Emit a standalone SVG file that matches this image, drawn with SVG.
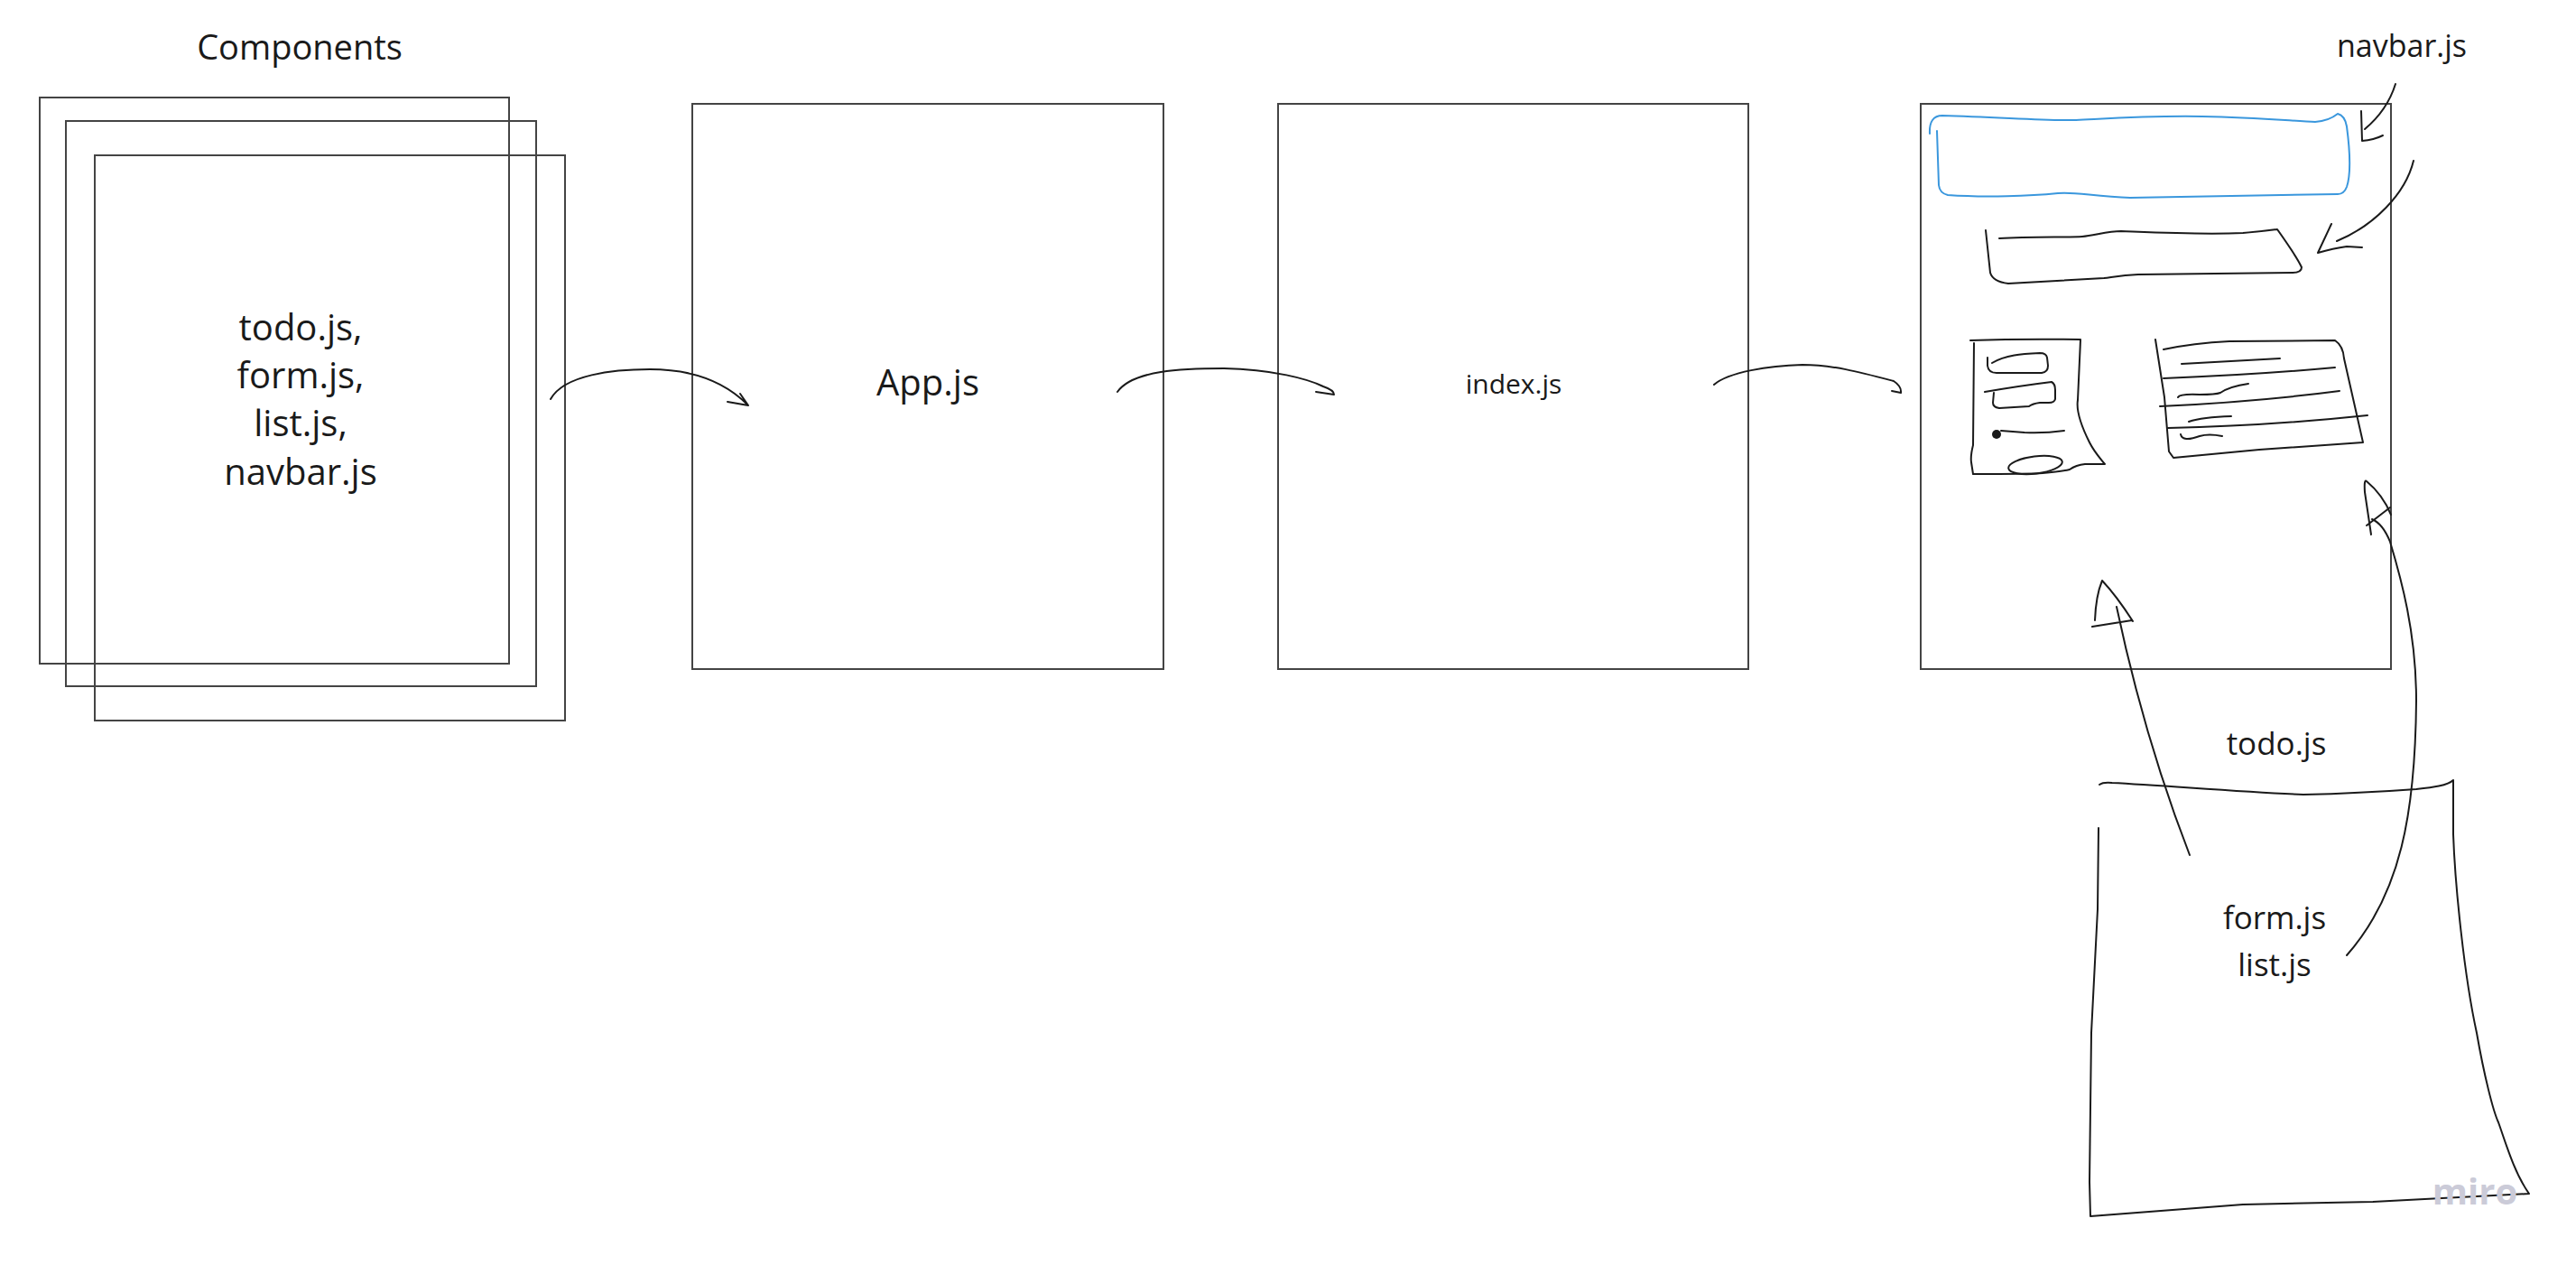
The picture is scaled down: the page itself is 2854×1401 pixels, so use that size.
<svg xmlns="http://www.w3.org/2000/svg" width="2854" height="1401" viewBox="0 0 2854 1401">
<style>
.box{fill:none;stroke:#444;stroke-width:2}
.ink{fill:none;stroke:#1a1a1a;stroke-width:2;stroke-linecap:round;stroke-linejoin:round}
.blue{fill:none;stroke:#3a97dd;stroke-width:2;stroke-linecap:round;stroke-linejoin:round}
text{font-family:"Open Sans","Noto Sans","Liberation Sans",sans-serif;fill:#1a1a1a;text-anchor:middle}
.wm{font-weight:bold;fill:#cbcbd8}
</style>
<rect width="2854" height="1401" fill="#fff"/>

<g id="node-components">
<text x="332" y="66" font-size="38">Components</text>
<rect class="box" x="44" y="108" width="520" height="627"/>
<rect class="box" x="73" y="134" width="521" height="626"/>
<rect class="box" x="105" y="172" width="521" height="626"/>
<text x="333" y="377" font-size="40">todo.js,</text>
<text x="333" y="430" font-size="40">form.js,</text>
<text x="333" y="483" font-size="40">list.js,</text>
<text x="333" y="537" font-size="40">navbar.js</text>
</g>

<g id="node-app">
<rect class="box" x="767" y="115" width="522" height="626"/>
<text x="1028" y="438" font-size="40">App.js</text>
</g>

<g id="node-index">
<rect class="box" x="1416" y="115" width="521" height="626"/>
<text x="1677" y="436" font-size="30">index.js</text>
</g>

<g id="node-page">
<rect class="box" x="2128" y="115" width="521" height="626"/>
<path class="blue" d="M2138,148 Q2137,128 2152,128 C2220,130 2270,134 2300,133 C2340,131 2380,128 2440,129 C2500,130 2540,134 2565,135 Q2580,134 2590,126 Q2598,128 2600,140 C2604,170 2604,195 2600,207 Q2597,215 2590,215 L2360,219 C2320,218 2300,212 2280,214 C2250,217 2200,219 2158,216 Q2149,214 2148,205 L2146,145"/>
<path class="ink" d="M2215,264 C2250,262 2290,263 2307,262 C2320,261 2335,256 2350,256 C2400,258 2440,260 2485,258 C2500,257 2515,255 2523,254 Q2545,285 2550,296 Q2550,302 2540,302 L2369,304 C2350,305 2340,307 2331,308 L2225,314 Q2208,312 2205,302 L2200,255"/>
<path class="ink" d="M2183,377 Q2240,375 2305,376 M2187,380 L2186,493 Q2183,505 2184,512 L2186,525 C2220,525 2250,525 2263,524 Q2285,522 2293,520 Q2300,515 2310,514 L2332,514 Q2320,500 2315,490 C2305,470 2300,455 2302,443 C2303,425 2304,400 2305,376"/>
<path class="ink" d="M2202,396 L2202,405 Q2203,413 2212,413 L2262,413 Q2269,412 2269,405 L2268,396 Q2267,391 2260,391 C2240,392 2222,393 2207,402"/>
<path class="ink" d="M2199,434 Q2240,427 2273,423 Q2277,425 2277,432 L2277,442 Q2276,446 2270,446 L2260,446 Q2252,447 2248,450 L2215,452 Q2208,451 2208,446 L2209,435"/>
<circle cx="2212" cy="481" r="5" fill="#1a1a1a"/>
<path class="ink" d="M2217,477 Q2230,478 2243,479 Q2265,480 2287,477"/>
<ellipse class="ink" cx="2255" cy="515" rx="30" ry="9.5" transform="rotate(-7 2255 515)"/>
<path class="ink" d="M2388,376 L2398,440 L2403,500 L2408,507 L2503,498 L2618,490 L2597,397 Q2596,383 2587,377 L2470,378 Q2430,380 2397,387"/>
<path class="ink" d="M2417,403 L2526,397 M2397,419 Q2500,415 2587,407 M2413,440 Q2415,436 2437,437 Q2455,437 2460,435 Q2470,428 2491,425 M2393,450 Q2500,445 2592,433 M2425,467 Q2440,462 2472,461 M2402,474 Q2510,472 2623,460 M2416,481 Q2418,490 2437,483 Q2447,480 2462,483"/>
</g>

<g id="label-navbar">
<text x="2661" y="63" font-size="34">navbar.js</text>
</g>

<g id="node-modules">
<path class="ink" d="M2326,869 Q2330,866 2340,867 C2400,870 2480,877 2552,880 C2600,879 2650,876 2677,874 C2695,872 2712,870 2718,864 L2718,924 C2720,980 2730,1080 2744,1144 C2752,1190 2762,1230 2768,1243 C2775,1262 2785,1298 2802,1322 L2629,1331 L2485,1334 L2316,1347 L2315,1309 L2317,1144 L2324,1007 L2325,917"/>
<text x="2522" y="836" font-size="35">todo.js</text>
<text x="2520" y="1029" font-size="35">form.js</text>
<text x="2520" y="1081" font-size="35">list.js</text>
</g>

<g id="connectors">
<path class="ink" d="M610,442 C625,415 680,409 720,409 C770,409 805,425 828,448 M820,436 L829,449 L806,445"/>
<path class="ink" d="M1238,434 C1255,410 1310,408 1356,408 C1410,409 1450,420 1466,428 Q1478,432 1478,437 L1458,434"/>
<path class="ink" d="M1899,426 C1915,412 1960,405 1997,404 C2030,404 2060,412 2098,422 Q2107,428 2106,435 L2096,433"/>
<path class="ink" d="M2654,93 Q2645,122 2620,143 M2616,123 L2617,156 Q2630,155 2640,150"/>
<path class="ink" d="M2674,178 C2665,215 2630,250 2589,267 M2583,248 L2568,280 Q2585,275 2600,273 L2617,274"/>
<path class="ink" d="M2426,947 C2400,880 2370,790 2345,672 M2321,687 Q2322,660 2329,643 Q2345,660 2363,688 M2318,694 L2362,687"/>
<path class="ink" d="M2600,1058 C2660,990 2676,900 2677,776 C2677,700 2660,640 2648,600 C2642,585 2635,578 2628,575 M2627,592 L2620,545 Q2619,530 2622,533 Q2640,548 2649,570 M2622,582 L2648,562"/>
</g>

<text class="wm" x="2742" y="1334" font-size="40">miro</text>
</svg>
